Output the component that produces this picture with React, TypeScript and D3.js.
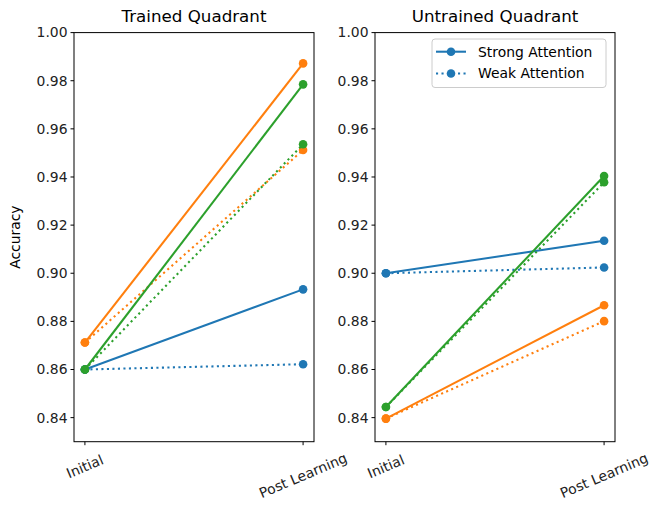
import * as d3 from "d3";

const phases = ["Initial", "Post Learning"];
const seriesColors = ["#1f77b4", "#ff7f0e", "#2ca02c"];
const yTicks = [0.84, 0.86, 0.88, 0.9, 0.92, 0.94, 0.96, 0.98, 1.0];

// [initial, post learning] per colour
const trainedStrong = [[0.86, 0.8933], [0.8712, 0.9872], [0.86, 0.9785]];
const trainedWeak = [[0.86, 0.8622], [0.8712, 0.9512], [0.86, 0.9536]];
const untrainedStrong = [[0.9, 0.9135], [0.8396, 0.8867], [0.8444, 0.9404]];
const untrainedWeak = [[0.9, 0.9024], [0.8396, 0.8801], [0.8444, 0.9378]];

const W = 649;
const H = 505;
const top = 32.6;
const bottom = 441.7;
const font = "DejaVu Sans, sans-serif";
const dash = "2.1,3.4";

const y = d3.scaleLinear().domain([0.83, 1.0]).range([bottom, top]);

function Panel({ left, right, title, strong, weak, showYLabel, legend }) {
  // matplotlib default 5% margins: categories at 0 and 1 in [-0.05, 1.05]
  const x = d3.scaleLinear().domain([-0.05, 1.05]).range([left, right]);
  const line = d3.line<number>().x((_, i) => x(i)).y((d) => y(d));
  const rows = [];
  seriesColors.forEach((c, k) => {
    rows.push({ c, vals: strong[k], dashed: false });
    rows.push({ c, vals: weak[k], dashed: true });
  });
  return (
    <g>
      <text x={(left + right) / 2} y={22} textAnchor="middle" fontSize={16.7} fontFamily={font}>
        {title}
      </text>
      {rows.map((r, i) => (
        <g key={i}>
          <path d={line(r.vals)} fill="none" stroke={r.c} strokeWidth={2.08}
            strokeDasharray={r.dashed ? dash : undefined} />
          {r.vals.map((v, j) => (
            <circle key={j} cx={x(j)} cy={y(v)} r={4.3} fill={r.c} />
          ))}
        </g>
      ))}
      <rect x={left} y={top} width={right - left} height={bottom - top} fill="none" stroke="#000" strokeWidth={1} />
      {yTicks.map((t) => (
        <g key={t}>
          <line x1={left - 3.5} x2={left} y1={y(t)} y2={y(t)} stroke="#000" />
          <text x={left - 6.5} y={y(t)} dy="0.35em" textAnchor="end" fontSize={13.9} fontFamily={font} fill="#222">
            {t.toFixed(2)}
          </text>
        </g>
      ))}
      {phases.map((p, i) => {
        const w = p.length * 7.6;
        const ang = (23 * Math.PI) / 180;
        const h = w * Math.sin(ang) + 14 * Math.cos(ang);
        return (
          <g key={p}>
            <line x1={x(i)} x2={x(i)} y1={bottom} y2={bottom + 3.5} stroke="#000" />
            <text transform={`translate(${x(i)},${bottom + 8 + h / 2}) rotate(-23)`} textAnchor="middle"
              dy="0.35em" fontSize={13.9} fontFamily={font} fill="#222">
              {p}
            </text>
          </g>
        );
      })}
      {showYLabel && (
        <text transform={`translate(20,${(top + bottom) / 2}) rotate(-90)`} textAnchor="middle" fontSize={13.9} fontFamily={font}>
          Accuracy
        </text>
      )}
      {legend && (
        <g>
          <rect x={432} y={39} width={174} height={48.5} rx={3} fill="#fff" fillOpacity={0.8} stroke="#ccc" />
          {[false, true].map((d, i) => (
            <g key={i}>
              <line x1={436} x2={466} y1={51.7 + i * 21.8} y2={51.7 + i * 21.8} stroke={seriesColors[0]} strokeWidth={2.08}
                strokeDasharray={d ? dash : undefined} />
              <circle cx={451} cy={51.7 + i * 21.8} r={4.3} fill={seriesColors[0]} />
              <text x={478} y={51.7 + i * 21.8} dy="0.35em" fontSize={13.9} fontFamily={font}>
                {d ? "Weak Attention" : "Strong Attention"}
              </text>
            </g>
          ))}
        </g>
      )}
    </g>
  );
}

export default function App() {
  return (
    <svg width={W} height={H} style={{ position: "absolute", left: 0, top: 0, background: "#fff" }}>
      <Panel left={74} right={314} title="Trained Quadrant" strong={trainedStrong} weak={trainedWeak} showYLabel legend={false} />
      <Panel left={375} right={615} title="Untrained Quadrant" strong={untrainedStrong} weak={untrainedWeak} showYLabel={false} legend />
    </svg>
  );
}
